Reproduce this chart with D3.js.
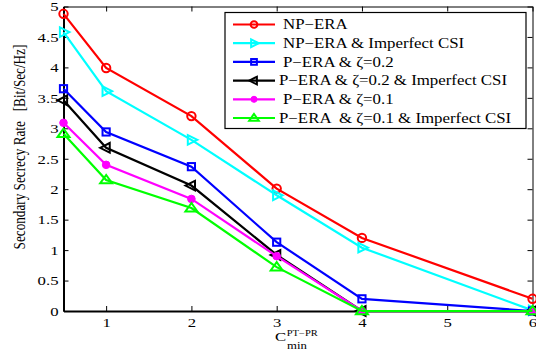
<!DOCTYPE html>
<html><head><meta charset="utf-8">
<script src="https://cdn.jsdelivr.net/npm/d3@7/dist/d3.min.js"></script>
<style>body{margin:0;background:#fff}svg{display:block}</style>
</head><body>
<svg id="c" width="536" height="358" font-family="Liberation Serif"></svg>
<script>
const xValues = [0.5, 1, 2, 3, 4, 6];
const npEra = [4.88, 3.99, 3.2, 2.01, 1.2, 0.2];
const npEraImperfect = [4.58, 3.61, 2.81, 1.9, 1.04, 0.01];
const pEra02 = [3.65, 2.94, 2.37, 1.13, 0.2, 0];
const pEra02Imperfect = [3.46, 2.68, 2.06, 0.92, 0, 0];
const pEra01 = [3.09, 2.4, 1.84, 0.9, 0, 0];
const pEra01Imperfect = [2.91, 2.15, 1.69, 0.72, 0, 0];
const seriesNames = ["NP\u2212ERA", "NP\u2212ERA & Imperfect CSI", "P\u2212ERA & \u03b6=0.2", "P\u2212ERA & \u03b6=0.2 & Imperfect CSI", "P\u2212ERA & \u03b6=0.1", "P\u2212ERA  & \u03b6=0.1 & Imperfect CSI"];
const xTicks = [1, 2, 3, 4, 5, 6];
const yTicks = [0, 0.5, 1, 1.5, 2, 2.5, 3, 3.5, 4, 4.5, 5];

const FONT = "Liberation Serif";
const SX = 1.24; // horizontal stretch of the reference glyphs
const series = [
  {name: seriesNames[0], values: npEra, color: "#ff0000", marker: "circle"},
  {name: seriesNames[1], values: npEraImperfect, color: "#00ffff", marker: "triRight"},
  {name: seriesNames[2], values: pEra02, color: "#0000ff", marker: "square"},
  {name: seriesNames[3], values: pEra02Imperfect, color: "#000000", marker: "triLeft"},
  {name: seriesNames[4], values: pEra01, color: "#ff00ff", marker: "dot"},
  {name: seriesNames[5], values: pEra01Imperfect, color: "#00ff00", marker: "triUp"}
];

const svg = d3.select("#c");
const L = 63.5, R = 532.5, T = 6.5, B = 311;
const x = d3.scaleLinear().domain([0.5, 6]).range([L, R]);
const y = d3.scaleLinear().domain([0, 5]).range([B, T]);

const g = svg.append("g");
const ax = g.append("g").attr("transform", `translate(0,${B})`)
  .call(d3.axisBottom(x).tickValues(xTicks).tickSize(-5).tickSizeOuter(0).tickPadding(6).tickFormat(d3.format("d")));
const axT = g.append("g").attr("transform", `translate(0,${T})`)
  .call(d3.axisTop(x).tickValues(xTicks).tickSize(-5).tickSizeOuter(0).tickFormat(""));
const ay = g.append("g").attr("transform", `translate(${L},0)`)
  .call(d3.axisLeft(y).tickValues(yTicks).tickSize(-5).tickSizeOuter(0).tickFormat(d => d));
const ayR = g.append("g").attr("transform", `translate(${R},0)`)
  .call(d3.axisRight(y).tickValues(yTicks).tickSize(-5).tickSizeOuter(0).tickFormat(""));
[ax, axT, ay, ayR].forEach(a => {
  a.attr("font-family", FONT);
  a.select(".domain").attr("stroke", "#000").attr("stroke-width", 1);
  a.selectAll(".tick line").attr("stroke", "#000").attr("stroke-width", 1);
  a.selectAll("text").attr("font-size", 13.5).attr("fill", "#000").attr("font-family", FONT);
});
ax.select(".domain").attr("stroke-width", 2);
ay.select(".domain").attr("stroke-width", 2);
ax.selectAll("text").attr("dy", "0.71em").attr("transform", `scale(${SX},1)`);
ay.selectAll("text").attr("x", -5 / SX).attr("transform", `scale(${SX},1)`);

function drawMarker(sel, type, cx, cy, color, s) {
  s = s || 1;
  if (type === "circle") {
    sel.append("circle").attr("cx", cx).attr("cy", cy).attr("r", 4.2 * s).attr("fill", "none").attr("stroke", color).attr("stroke-width", 2);
  } else if (type === "dot") {
    sel.append("circle").attr("cx", cx).attr("cy", cy).attr("r", 3.8 * s).attr("fill", color).attr("stroke", color).attr("stroke-width", 1);
  } else if (type === "square") {
    const h = 3.6 * s;
    sel.append("rect").attr("x", cx - h).attr("y", cy - h).attr("width", 2 * h).attr("height", 2 * h).attr("fill", "none").attr("stroke", color).attr("stroke-width", 2);
  } else {
    const r = 6 * s;
    let pts;
    if (type === "triRight") pts = [[cx + r, cy], [cx - r * 0.6, cy - r * 0.8], [cx - r * 0.6, cy + r * 0.8]];
    else if (type === "triLeft") pts = [[cx - r, cy], [cx + r * 0.6, cy - r * 0.8], [cx + r * 0.6, cy + r * 0.8]];
    else pts = [[cx, cy - r * 0.85], [cx - r, cy + r * 0.55], [cx + r, cy + r * 0.55]];
    sel.append("polygon").attr("points", pts.map(p => p.join(",")).join(" ")).attr("fill", "none").attr("stroke", color).attr("stroke-width", 2).attr("stroke-linejoin", "miter");
  }
}

const line = d3.line().x((d, i) => x(xValues[i])).y(d => y(d));
const plot = svg.append("g");
series.forEach(s => {
  plot.append("path").attr("d", line(s.values)).attr("fill", "none").attr("stroke", s.color).attr("stroke-width", 2.2);
  s.values.forEach((v, i) => drawMarker(plot, s.marker, x(xValues[i]), y(v), s.color));
});

const lg = svg.append("g").attr("font-family", FONT);
lg.append("rect").attr("x", 225).attr("y", 12.5).attr("width", 301).attr("height", 116).attr("fill", "#fff").attr("stroke", "#000").attr("stroke-width", 1.2);
const legY = [24.5, 43.2, 61.9, 80.6, 99.3, 118];
const textX = [283, 283, 283, 279, 283, 279];
series.forEach((s, i) => {
  lg.append("line").attr("x1", 233).attr("x2", 275).attr("y1", legY[i]).attr("y2", legY[i]).attr("stroke", s.color).attr("stroke-width", 2.2);
  drawMarker(lg, s.marker, 254, legY[i], s.color, 0.8);
  lg.append("text").attr("transform", `translate(${textX[i]},${legY[i] + 4.8}) scale(${SX},1)`)
    .attr("font-size", 13.6).attr("font-family", FONT).attr("fill", "#000").style("white-space", "pre").text(s.name);
});

svg.append("text").attr("transform", `translate(25,147) scale(${SX},1) rotate(-90)`).attr("text-anchor", "middle")
  .attr("font-size", 13.2).attr("font-family", FONT).attr("fill", "#000").style("white-space", "pre")
  .text("Secondary Secrecy Rate   [Bit/Sec/Hz]");

svg.append("text").attr("transform", `translate(275,340.7) scale(${SX},1)`).attr("font-size", 13.5).attr("font-family", FONT).attr("fill", "#000").text("C");
svg.append("text").attr("transform", `translate(286.7,335.7) scale(${SX},1)`).attr("font-size", 8.5).attr("font-family", FONT).attr("fill", "#000").text("PT\u2212PR");
svg.append("text").attr("transform", `translate(287,349.3) scale(${SX},1)`).attr("font-size", 10.3).attr("font-family", FONT).attr("fill", "#000").text("min");
</script>
</body></html>
